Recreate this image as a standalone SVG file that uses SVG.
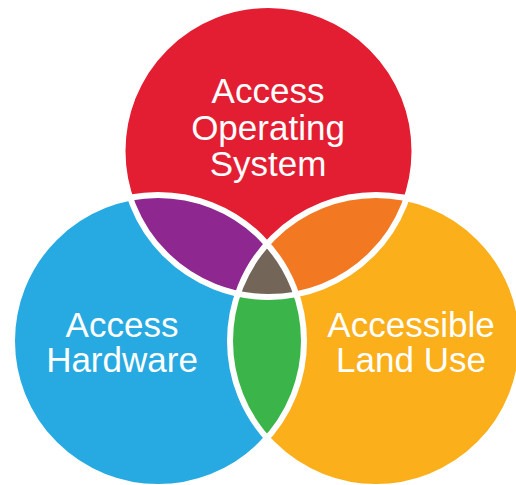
<svg xmlns="http://www.w3.org/2000/svg" width="516" height="485" viewBox="0 0 516 485">
<style>
.lbl{font-family:"Liberation Sans",Arial,sans-serif;font-size:35px;fill:#fff;text-anchor:middle}
.outline{fill:none;stroke:#fff;stroke-width:6}
</style>
<defs>
<clipPath id="cRed"><circle cx="268.5" cy="151" r="146"/></clipPath>
<clipPath id="cBlue"><circle cx="158" cy="341" r="146"/></clipPath>
<clipPath id="cYel"><circle cx="376" cy="341" r="146"/></clipPath>
</defs>
<rect width="516" height="485" fill="#fff"/>
<g id="node-operating-system">
<circle cx="268.5" cy="151" r="146" fill="#E41E32"/>
<text class="lbl" x="268" y="103">Access</text>
<text class="lbl" x="268" y="140">Operating</text>
<text class="lbl" x="268" y="176">System</text>
</g>
<g id="node-hardware">
<circle cx="158" cy="341" r="146" fill="#27AAE1"/>
<text class="lbl" x="122" y="337">Access</text>
<text class="lbl" x="122" y="372">Hardware</text>
</g>
<g id="node-land-use">
<circle cx="376" cy="341" r="146" fill="#FAAF1B"/>
<text class="lbl" x="411" y="337">Accessible</text>
<text class="lbl" x="411" y="372">Land Use</text>
</g>
<g id="overlaps">
<circle cx="158" cy="341" r="146" fill="#8E278F" clip-path="url(#cRed)"/>
<circle cx="376" cy="341" r="146" fill="#F37822" clip-path="url(#cRed)"/>
<circle cx="376" cy="341" r="146" fill="#3BB54A" clip-path="url(#cBlue)"/>
<g clip-path="url(#cBlue)"><circle cx="268.5" cy="151" r="146" fill="#736659" clip-path="url(#cYel)"/></g>
</g>
<g id="outlines">
<circle class="outline" cx="268.5" cy="151" r="146"/>
<circle class="outline" cx="158" cy="341" r="146"/>
<circle class="outline" cx="376" cy="341" r="146"/>
</g>
</svg>
